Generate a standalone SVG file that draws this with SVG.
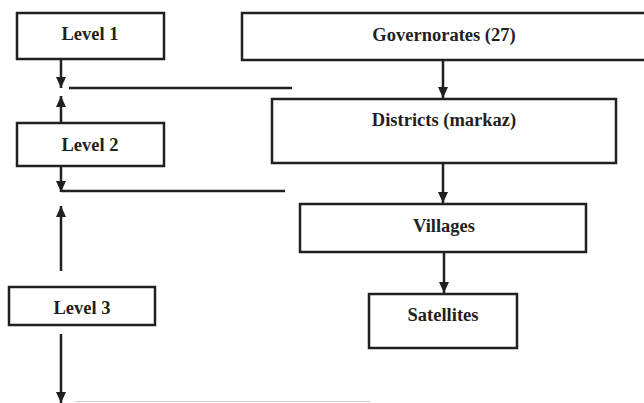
<svg xmlns="http://www.w3.org/2000/svg" width="644" height="403" viewBox="0 0 644 403">
<style>
.box{fill:#fff;stroke:#231f20;stroke-width:2.5}
.lbl{font-family:"Liberation Serif","Times New Roman",serif;font-weight:bold;font-size:18.5px;fill:#231f20;text-anchor:middle}
.ln{stroke:#231f20;stroke-width:2.5;fill:none}
.arr{stroke:#231f20;stroke-width:2.5;fill:none;marker-end:url(#ah)}
</style>
<defs>
<marker id="ah" markerUnits="userSpaceOnUse" markerWidth="11" markerHeight="11" viewBox="0 0 11 11" refX="11" refY="5.5" orient="auto">
<path d="M0,0.5 L11,5.5 L0,10.5 z" fill="#231f20"/>
</marker>
</defs>
<rect width="644" height="403" fill="#fff"/>
<g id="level1"><rect class="box" x="17" y="13" width="147" height="46"/><text class="lbl" x="90" y="40">Level 1</text></g>
<g id="level2"><rect class="box" x="17" y="123" width="147" height="43"/><text class="lbl" x="90" y="151">Level 2</text></g>
<g id="level3"><rect class="box" x="9" y="287" width="146" height="38"/><text class="lbl" x="82" y="314">Level 3</text></g>
<g id="governorates"><rect class="box" x="242" y="13" width="410" height="47"/><text class="lbl" x="444" y="41">Governorates (27)</text></g>
<g id="districts"><rect class="box" x="272" y="99" width="344" height="64"/><text class="lbl" x="444" y="126">Districts (markaz)</text></g>
<g id="villages"><rect class="box" x="300" y="204" width="286" height="48"/><text class="lbl" x="444" y="232">Villages</text></g>
<g id="satellites"><rect class="box" x="369" y="294" width="148" height="54"/><text class="lbl" x="443" y="321">Satellites</text></g>
<g id="connectors">
<line class="arr" x1="61" y1="59" x2="61" y2="88"/>
<line class="arr" x1="61" y1="123" x2="61" y2="96"/>
<line class="arr" x1="61" y1="166" x2="61" y2="192"/>
<line class="arr" x1="61" y1="271" x2="61" y2="206"/>
<line class="arr" x1="61" y1="334" x2="61" y2="403"/>
<line class="ln" x1="69" y1="88" x2="292" y2="88"/>
<line class="ln" x1="61" y1="191" x2="285" y2="191"/>
<line x1="75" y1="401.5" x2="370" y2="401.5" stroke="#cccccc" stroke-width="1"/>
<line class="arr" x1="443" y1="60" x2="443" y2="98"/>
<line class="arr" x1="443" y1="163" x2="443" y2="203"/>
<line class="arr" x1="444" y1="252" x2="444" y2="293"/>
</g>
</svg>
